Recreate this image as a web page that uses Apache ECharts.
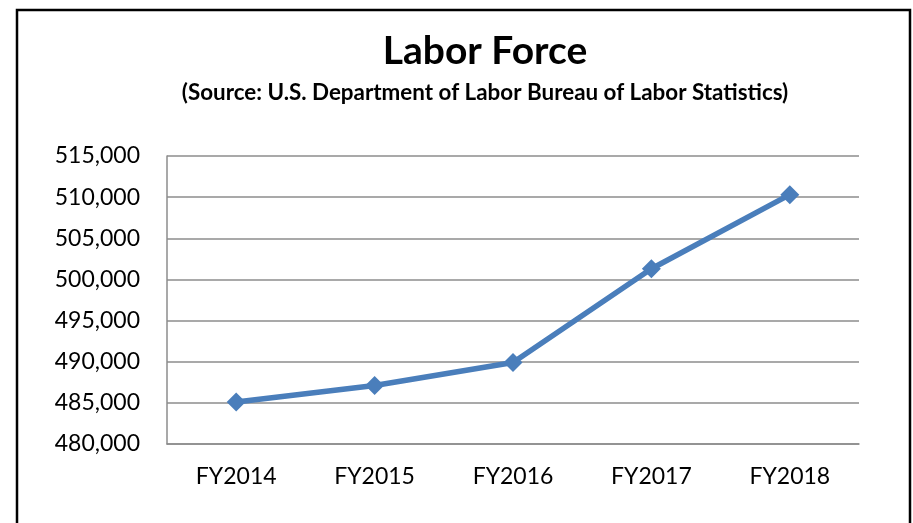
<!DOCTYPE html>
<html>
<head>
  <meta charset="utf-8">
  <title>Labor Force</title>
  <style>
    html, body { margin: 0; padding: 0; background: #fff; }
    #chart { width: 913px; height: 523px; }
  </style>
</head>
<body>
<div id="chart"></div>
<script src="https://cdn.jsdelivr.net/npm/echarts@6/dist/echarts.min.js"></script>
<script>
// data
var years = ['FY2014', 'FY2015', 'FY2016', 'FY2017', 'FY2018'];
var laborForce = [485100, 487100, 489900, 501300, 510300];
var yMin = 480000, yMax = 515000, yStep = 5000;

var myChart = echarts.init(document.getElementById('chart'));

var option = {
  backgroundColor: '#fff',
  animation: false,
  title: [
    {
      text: 'Labor Force',
      left: 480,
      top: 27,
      textAlign: 'center',
      textStyle: { fontFamily: 'Lato', fontWeight: 'bold', fontSize: 39, color: '#000' }
    },
    {
      text: '(Source: U.S. Department of Labor Bureau of Labor Statistics)',
      left: 480,
      top: 77,
      textAlign: 'center',
      textStyle: { fontFamily: 'Lato', fontWeight: 'bold', fontSize: 22.4, color: '#000' }
    }
  ],
  // outer frame
  graphic: [
    {
      type: 'rect',
      shape: { x: 17, y: 10, width: 893, height: 600 },
      style: { fill: 'none', stroke: '#000', lineWidth: 2.5 },
      silent: true
    }
  ],
  grid: { left: 167, right: 54, top: 156, bottom: 79 },
  xAxis: {
    type: 'category',
    data: years,
    boundaryGap: true,
    axisLine: { lineStyle: { color: '#8c8c8c', width: 1.5 } },
    axisTick: { show: false },
    axisLabel: { fontFamily: 'Lato', fontSize: 23, color: '#000', margin: 21 }
  },
  yAxis: {
    type: 'value',
    min: yMin,
    max: yMax,
    interval: yStep,
    axisLine: { show: true, lineStyle: { color: '#8c8c8c', width: 1.5 } },
    axisTick: { show: false },
    splitLine: { lineStyle: { color: '#8c8c8c', width: 1.5 } },
    axisLabel: {
      fontFamily: 'Lato', fontSize: 23, color: '#000', margin: 27,
      formatter: function (v) { return v.toLocaleString('en-US'); }
    }
  },
  series: [
    {
      name: 'Labor Force',
      type: 'line',
      data: laborForce,
      symbol: 'diamond',
      symbolSize: 19,
      lineStyle: { color: '#4a7ebb', width: 5.5 },
      itemStyle: { color: '#4a7ebb' }
    }
  ]
};

myChart.setOption(option);
</script>
</body>
</html>
